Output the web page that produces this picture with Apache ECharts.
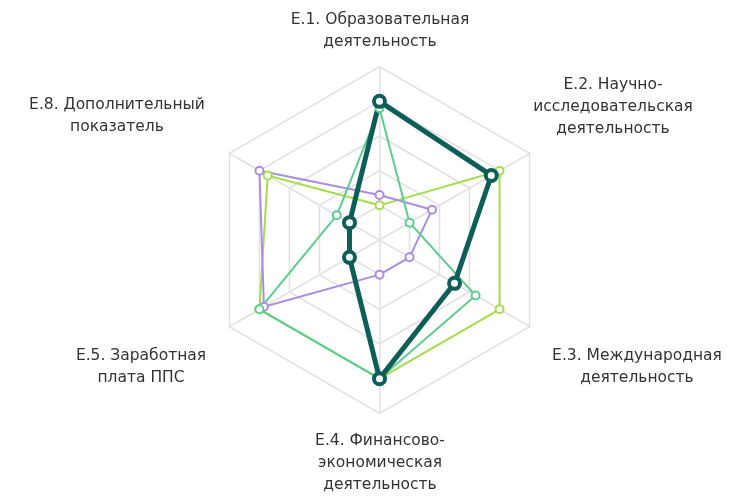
<!DOCTYPE html>
<html>
<head>
<meta charset="utf-8">
<script src="https://cdn.jsdelivr.net/npm/echarts@6/dist/echarts.min.js"></script>
<style>
html,body{margin:0;padding:0;background:#fff;}
#chart{width:742px;height:501px;}
</style>
</head>
<body>
<div id="chart"></div>
<script>
// Indicators, listed clockwise from the top
var categories = [
  'E.1. Образовательная\nдеятельность',
  'E.2. Научно-\nисследовательская\nдеятельность',
  'E.3. Международная\nдеятельность',
  'E.4. Финансово-\nэкономическая\nдеятельность',
  'E.5. Заработная\nплата ППС',
  'E.8. Дополнительный\nпоказатель'
];
var seriesLime   = [0.20, 0.80, 0.80, 0.80, 0.80, 0.745];
var seriesPurple = [0.26, 0.35, 0.20, 0.20, 0.77, 0.80];
var seriesGreen  = [0.76, 0.20, 0.64, 0.80, 0.80, 0.285];
var seriesDark   = [0.80, 0.745, 0.50, 0.80, 0.20, 0.20];
var maxValue = 1;

// ECharts lays radar indicators out counter-clockwise; reorder so they read clockwise
var order = [0, 5, 4, 3, 2, 1];
function reorder(arr) { return order.map(function (i) { return arr[i]; }); }

var labelPos = [
  [380, 31], [613, 107], [637, 367], [380, 463], [141, 367], [117, 116]
];

var chart = echarts.init(document.getElementById('chart'), null, {renderer: 'canvas'});

function mk(name, data, color, lw, sym, bw) {
  return {
    type: 'radar',
    name: name,
    symbol: 'circle',
    symbolSize: sym,
    data: [{
      value: reorder(data),
      lineStyle: {color: color, width: lw},
      itemStyle: {color: '#ffffff', borderColor: color, borderWidth: bw},
      areaStyle: null
    }],
    z: 2
  };
}

var option = {
  animation: false,
  backgroundColor: '#ffffff',
  radar: {
    center: [379.5, 240],
    radius: 173.3,
    startAngle: 90,
    splitNumber: 5,
    shape: 'polygon',
    indicator: reorder(categories).map(function (c) { return {name: c, max: maxValue, min: 0}; }),
    axisName: {show: false},
    splitLine: {lineStyle: {color: '#e0e0e0', width: 1.5}},
    axisLine: {lineStyle: {color: '#e0e0e0', width: 1.5}},
    splitArea: {show: false},
    axisTick: {show: false},
    axisLabel: {show: false}
  },
  graphic: categories.map(function (c, i) {
    return {
      type: 'text',
      x: labelPos[i][0],
      y: labelPos[i][1],
      style: {
        text: c,
        fill: '#333333',
        font: '15.5px "DejaVu Sans"',
        textAlign: 'center',
        textVerticalAlign: 'middle',
        lineHeight: 22
      }
    };
  }),
  series: [
    mk('lime', seriesLime, '#a6dd4c', 2, 8, 2),
    mk('purple', seriesPurple, '#aa8ee0', 2, 8, 2),
    mk('green', seriesGreen, '#5ccd8f', 2, 8, 2),
    mk('dark', seriesDark, '#0e5e58', 5, 11, 4)
  ]
};
chart.setOption(option);
</script>
</body>
</html>
